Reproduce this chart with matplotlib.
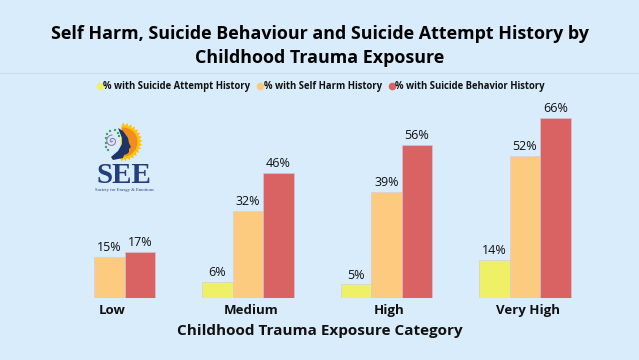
import matplotlib
matplotlib.use("Agg")
import matplotlib.pyplot as plt
import matplotlib.transforms as mtrans
from matplotlib.patches import Circle, Wedge, Polygon
import numpy as np

categories = ["Low", "Medium", "High", "Very High"]
attempt = [None, 6, 5, 14]
self_harm = [15, 32, 39, 52]
behavior = [17, 46, 56, 66]
series_names = ["% with Suicide Attempt History", "% with Self Harm History", "% with Suicide Behavior History"]
series_colors = ["#eef165", "#fdcb7f", "#d96262"]

plt.rcParams['font.family'] = ['Open Sans', 'DejaVu Sans']
BG = "#d9ecfb"
W, H = 639, 360

fig = plt.figure(figsize=(W / 100, H / 100), dpi=100, facecolor=BG)

# pixel overlay for the header rule and logo
ov = fig.add_axes([0, 0, 1, 1], zorder=3)
ov.set_xlim(0, W)
ov.set_ylim(H, 0)
ov.axis("off")

# chart area, baseline at y=298 and 66% at y=119
left, right = 40, 600
y0, ytop = 298, 100
ax = fig.add_axes([left / W, 1 - y0 / H, (right - left) / W, (y0 - ytop) / H], facecolor="none")
step = 138.5
bar_w = 30.5 / step
ax.set_xlim((left - 109.5) / step, (right - 109.5) / step)
ax.set_ylim(0, (y0 - ytop) / (180 / 66))

x = np.arange(len(categories))
for i, (vals, name, col) in enumerate(zip([attempt, self_harm, behavior], series_names, series_colors)):
    heights = [np.nan if v is None else v for v in vals]
    bars = ax.bar(x + (i - 1) * bar_w, heights, bar_w, color=col, label=name, edgecolor="#d3c9de", linewidth=0.4)
    labels = ["" if v is None else f"{v}%" for v in vals]
    ax.bar_label(bars, labels=labels, padding=2, fontsize=9, color="#111111")

for s in ["top", "right", "left", "bottom"]:
    ax.spines[s].set_visible(False)
ax.set_yticks([])
ax.set_xticks(x)
ax.set_xticklabels(categories, fontsize=9.5, fontweight="bold", color="#111111")
ax.tick_params(axis="x", length=0, pad=4)
shift = mtrans.ScaledTranslation(3 / 100, 0, fig.dpi_scale_trans)
for lab in ax.get_xticklabels():
    lab.set_transform(lab.get_transform() + shift)

fig.text(320 / W, 1 - 331 / H, "Childhood Trauma Exposure Category", ha="center", va="center",
         fontsize=11, fontweight="bold", color="#111111")
fig.text(320 / W, 1 - 46 / H, "Self Harm, Suicide Behaviour and Suicide Attempt History by\nChildhood Trauma Exposure",
         ha="center", va="center", fontsize=12.9, fontweight="bold", color="black", linespacing=1.42)

ov.plot([0, W], [73, 73], color="#cbe0f0", lw=0.9)

handles = [plt.Line2D([], [], marker="o", ls="", ms=4.5, color=c) for c in series_colors]
fig.legend(handles, series_names, loc="center", bbox_to_anchor=(320 / W, 1 - 87 / H), ncol=3, frameon=False,
           prop={"size": 6.85, "weight": "bold"}, handlelength=1, handletextpad=-0.15, columnspacing=0.55,
           labelcolor="#111111")

# logo
cx, cy = 123, 142
angles = np.linspace(-95, 100, 33)
pts = []
for k, a in enumerate(angles):
    r = 19.5 if k % 2 else 16.5
    pts.append((cx + r * np.cos(np.radians(a)), cy + r * np.sin(np.radians(a))))
ov.add_patch(Polygon(pts, closed=True, color="#fcc30b", lw=0))
ov.add_patch(Wedge((cx, cy), 14.5, -95, 100, color="#f28c1c", lw=0))
head = [(118, 128), (123, 131), (128, 138), (129, 143), (131, 147), (129, 149), (129, 152), (127, 154), (124, 155), (123, 158),
        (113, 160), (111, 157), (118, 151), (122, 144), (122, 138), (120, 133)]
ov.add_patch(Polygon(head, closed=True, color="#1d3468", lw=0))
greens = [(115, 130), (118, 133), (119, 136), (110, 131), (107, 134), (106, 138), (106, 143), (106, 147), (108, 150)]
for p in greens:
    ov.add_patch(Circle(p, 1.2, color="#3aa655", lw=0))
t = np.linspace(0, 3.5 * np.pi, 60)
ov.plot(112 + t * 0.55 * np.cos(t), 141 + t * 0.55 * np.sin(t), color="#8a6f9e", lw=0.7)
ov.text(124, 175.5, "SEE", ha="center", va="center", family=["Liberation Serif"], fontweight="bold", fontsize=21,
        color="#253f7c")
ov.text(124, 190.5, "Society for Energy & Emotions", ha="center", va="center", family=["Liberation Serif"],
        fontsize=3.3, color="#253f7c")

fig.savefig("out.png", dpi=100, facecolor=BG)
